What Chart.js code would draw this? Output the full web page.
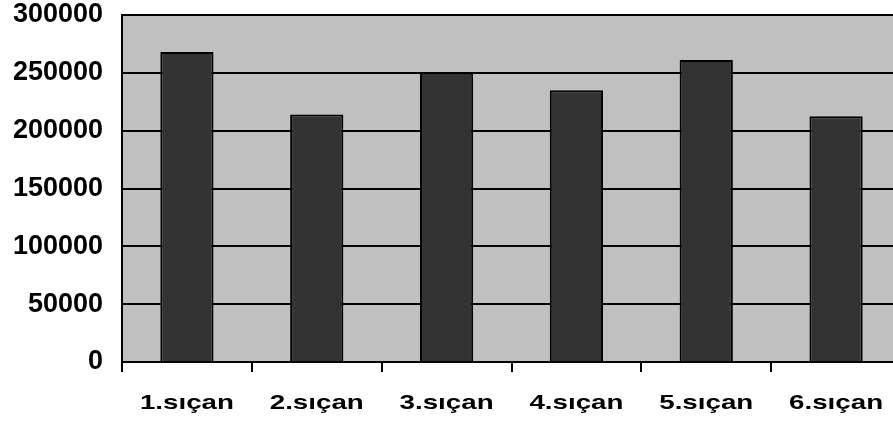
<!DOCTYPE html>
<html>
<head>
<meta charset="utf-8">
<script src="https://cdn.jsdelivr.net/npm/chart.js@4/dist/chart.umd.min.js"></script>
<style>
  html, body { margin: 0; padding: 0; background: #ffffff; overflow: hidden; }
  #wrap { width: 901px; height: 425px; }
</style>
</head>
<body>
<div id="wrap"><canvas id="chart" width="901" height="425"></canvas></div>
<script>
// Kategori adları ve ölçülen değerler
const categories = ['1.sıçan', '2.sıçan', '3.sıçan', '4.sıçan', '5.sıçan', '6.sıçan'];
const values = [268000, 214000, 250000, 235000, 261000, 212500];
const yTicks = [0, 50000, 100000, 150000, 200000, 250000, 300000];

const FONT = '"Liberation Sans", Arial, sans-serif';

// Gri çizim alanı zemini
const plotBackground = {
  id: 'plotBackground',
  beforeDraw(chart) {
    const { ctx, chartArea: a } = chart;
    ctx.save();
    ctx.fillStyle = '#c0c0c0';
    ctx.fillRect(a.left, a.top, a.right - a.left, a.bottom - a.top);
    ctx.restore();
  }
};

// Kategori etiketleri: yatayda genişletilmiş kalın yazı
const wideCategoryLabels = {
  id: 'wideCategoryLabels',
  afterDraw(chart) {
    const { ctx, scales: { x } } = chart;
    ctx.save();
    ctx.fillStyle = '#000000';
    ctx.font = 'bold 21px ' + FONT;
    ctx.textAlign = 'center';
    ctx.textBaseline = 'alphabetic';
    categories.forEach((label, i) => {
      const cx = x.getPixelForTick(i);
      ctx.save();
      ctx.translate(cx, 409);
      ctx.scale(1.32, 1);
      ctx.fillText(label, 0, 0);
      ctx.restore();
    });
    ctx.restore();
  }
};

new Chart(document.getElementById('chart'), {
  type: 'bar',
  data: {
    labels: categories,
    datasets: [{
      data: values,
      backgroundColor: '#333333',
      borderColor: '#000000',
      borderWidth: 2,
      barPercentage: 0.41,
      categoryPercentage: 1.0
    }]
  },
  options: {
    responsive: false,
    animation: false,
    layout: { padding: { top: 15, left: 0, right: 0, bottom: 0 } },
    plugins: { legend: { display: false }, tooltip: { enabled: false } },
    scales: {
      x: {
        offset: true,
        grid: {
          offset: true,
          drawOnChartArea: false,
          drawTicks: true,
          tickLength: 10,
          color: '#000000',
          lineWidth: 2
        },
        border: { display: true, color: '#000000', width: 2 },
        ticks: { display: false },
        afterFit(scale) { scale.height = 63; }
      },
      y: {
        min: 0,
        max: 300000,
        afterBuildTicks(scale) { scale.ticks = yTicks.map(v => ({ value: v })); },
        grid: {
          drawTicks: false,
          color: '#000000',
          lineWidth: 2
        },
        border: { display: true, color: '#000000', width: 2 },
        ticks: {
          color: '#000000',
          padding: 19,
          callback: v => String(v),
          font: { family: FONT, size: 27, weight: 'bold' }
        },
        afterFit(scale) {
          scale.width = 122;
          scale.paddingTop = 0;
          scale.paddingBottom = 0;
        }
      }
    }
  },
  plugins: [plotBackground, wideCategoryLabels]
});
</script>
</body>
</html>
